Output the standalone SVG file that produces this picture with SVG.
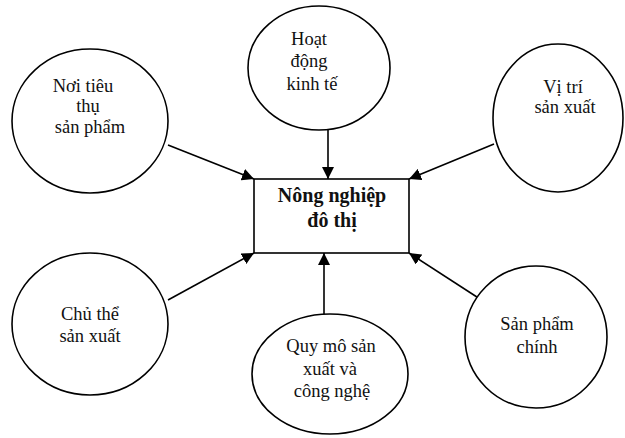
<svg xmlns="http://www.w3.org/2000/svg" width="625" height="438" viewBox="0 0 625 438">
<style>
.n{fill:#fff;stroke:#000;stroke-width:1.6}
.t{font-family:'Liberation Serif','Times New Roman',serif;font-size:18.5px;fill:#111;text-anchor:middle}
.b{font-family:'Liberation Serif','Times New Roman',serif;font-size:20px;font-weight:bold;fill:#111;text-anchor:middle}
.c{stroke:#000;stroke-width:1.6;fill:none;marker-end:url(#ah)}
</style>
<defs>
<marker id="ah" viewBox="0 0 12 12" refX="12" refY="6" markerWidth="12" markerHeight="12" markerUnits="userSpaceOnUse" orient="auto">
<path d="M0,0 L12,6 L0,12 Z" fill="#000"/>
</marker>
</defs>
<rect width="625" height="438" fill="#fff"/>
<g id="connectors">
<line class="c" x1="168" y1="145" x2="254" y2="179"/>
<line class="c" x1="328" y1="130" x2="328" y2="179"/>
<line class="c" x1="494" y1="144" x2="409" y2="179"/>
<line class="c" x1="168" y1="300" x2="254" y2="253"/>
<line class="c" x1="324" y1="315" x2="324" y2="253"/>
<line class="c" x1="480" y1="299" x2="409" y2="253"/>
</g>
<g id="center">
<rect class="n" x="254" y="179" width="155" height="74"/>
<text class="b" x="332" y="202">Nông nghiệp</text>
<text class="b" x="332" y="227">đô thị</text>
</g>
<g id="noi-tieu-thu">
<ellipse class="n" cx="90" cy="121" rx="78" ry="72"/>
<text class="t" x="83" y="92">Nơi tiêu</text>
<text class="t" x="88" y="112">thụ</text>
<text class="t" x="90" y="133">sản phẩm</text>
</g>
<g id="hoat-dong">
<ellipse class="n" cx="319" cy="68" rx="71" ry="62"/>
<text class="t" x="309" y="45">Hoạt</text>
<text class="t" x="309" y="67">động</text>
<text class="t" x="312" y="90">kinh tế</text>
</g>
<g id="vi-tri">
<ellipse class="n" cx="558" cy="118" rx="65" ry="74"/>
<text class="t" x="563" y="93">Vị trí</text>
<text class="t" x="565" y="113">sản xuất</text>
</g>
<g id="chu-the">
<ellipse class="n" cx="90" cy="324" rx="78" ry="71"/>
<text class="t" x="90" y="320">Chủ thể</text>
<text class="t" x="90" y="342">sản xuất</text>
</g>
<g id="quy-mo">
<ellipse class="n" cx="330" cy="374" rx="78" ry="60"/>
<text class="t" x="331" y="352">Quy mô sản</text>
<text class="t" x="330" y="375">xuất và</text>
<text class="t" x="332" y="397">công nghệ</text>
</g>
<g id="san-pham-chinh">
<ellipse class="n" cx="536" cy="337" rx="71" ry="71"/>
<text class="t" x="537" y="330">Sản phẩm</text>
<text class="t" x="537" y="353">chính</text>
</g>
</svg>
